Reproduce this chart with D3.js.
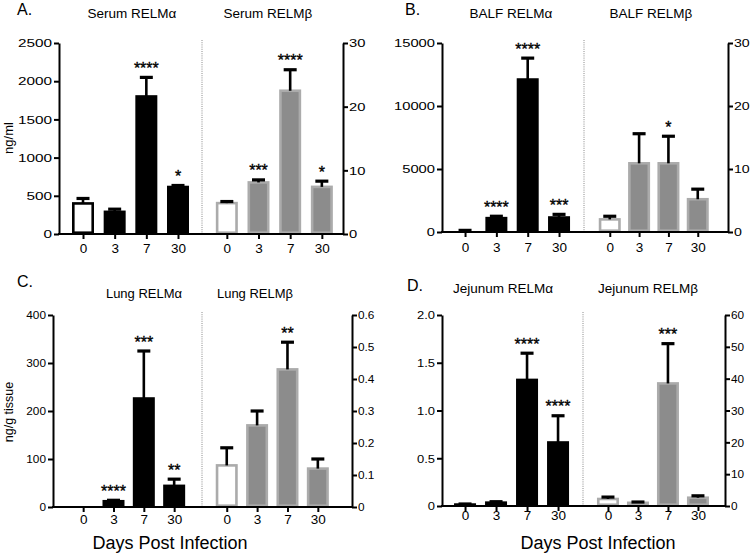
<!DOCTYPE html>
<html>
<head>
<meta charset="utf-8">
<script src="https://cdn.jsdelivr.net/npm/d3@7/dist/d3.min.js"></script>
<style>
  html, body { margin: 0; padding: 0; background: #fff; }
  svg { display: block; font-family: "Liberation Sans", Arial, Helvetica, sans-serif; }
</style>
</head>
<body>
<svg id="chart" width="750" height="554"></svg>
<script>
// ---------------- DATA ----------------
const days = ["0", "3", "7", "30"];

// Panel A – Serum
const serumAlpha    = [400, 290, 1800, 615];
const serumAlphaSem = [65, 35, 250, 20];
const serumAlphaSig = ["", "", "****", "*"];
const serumBeta     = [4.85, 8.1, 22.5, 7.4];
const serumBetaSem  = [0.25, 0.4, 3.3, 0.9];
const serumBetaSig  = ["", "***", "****", "*"];
const serumLeftTicks  = [0, 500, 1000, 1500, 2000, 2500];
const serumRightTicks = [0, 10, 20, 30];

// Panel B – BALF
const balfAlpha    = [80, 1100, 12100, 1150];
const balfAlphaSem = [50, 150, 1700, 250];
const balfAlphaSig = ["", "****", "****", "***"];
const balfBeta     = [2.0, 10.9, 10.9, 5.2];
const balfBetaSem  = [0.5, 4.7, 4.3, 1.6];
const balfBetaSig  = ["", "", "*", ""];
const balfLeftTicks  = [0, 5000, 10000, 15000];
const balfRightTicks = [0, 10, 20, 30];

// Panel C – Lung
const lungAlpha    = [0, 12, 226, 44];
const lungAlphaSem = [0, 2, 99, 14];
const lungAlphaSig = ["", "****", "***", "**"];
const lungBeta     = [0.13, 0.255, 0.43, 0.12];
const lungBetaSem  = [0.055, 0.045, 0.085, 0.03];
const lungBetaSig  = ["", "", "**", ""];
const lungLeftTicks  = [0, 100, 200, 300, 400];
const lungRightTicks = [0, 0.1, 0.2, 0.3, 0.4, 0.5, 0.6];
const lungRightLabels = ["0", "0.1", "0.2", "0.3", "0.4", "0.5", "0.6"];

// Panel D – Jejunum
const jejAlpha    = [0.015, 0.035, 1.32, 0.665];
const jejAlphaSem = [0.006, 0.01, 0.28, 0.28];
const jejAlphaSig = ["", "", "****", "****"];
const jejBeta     = [2.2, 1.0, 38.5, 2.6];
const jejBetaSem  = [0.6, 0.25, 12.5, 0.6];
const jejBetaSig  = ["", "", "***", ""];
const jejLeftTicks  = [0, 0.5, 1, 1.5, 2];
const jejLeftLabels = ["0", "0.5", "1.0", "1.5", "2.0"];
const jejRightTicks = [0, 10, 20, 30, 40, 50, 60];

// ---------------- PANELS (layout) ----------------
const panels = [
  { letter: "A.", lx: 17, ly: 15,
    titleA: "Serum RELMα", titleB: "Serum RELMβ", tAx: 132, tBx: 268, tY: 18, tSize: 13.5,
    x0: 59, xd: 202, x1: 343, y0: 234, yt: 43,
    pA: 0.758, aA: 0.5, pB: 0.726, aB: 0.54,
    alpha: serumAlpha, alphaSem: serumAlphaSem, alphaSig: serumAlphaSig,
    beta: serumBeta, betaSem: serumBetaSem, betaSig: serumBetaSig,
    leftMax: 2500, rightMax: 30, leftTicks: serumLeftTicks, rightTicks: serumRightTicks,
    leftLabels: null, rightLabels: null, stretchL: 1.3, stretchR: 1.25, xLabOff: 19,
    ylab: "ng/ml", ylabY: 138, ylabSize: 13, xTitle: null },
  { letter: "B.", lx: 405, ly: 15,
    titleA: "BALF RELMα", titleB: "BALF RELMβ", tAx: 511, tBx: 651, tY: 18, tSize: 13.5,
    x0: 442, xd: 584, x1: 728, y0: 232, yt: 43,
    pA: 0.766, aA: 0.48, pB: 0.955, aB: 0.46,
    alpha: balfAlpha, alphaSem: balfAlphaSem, alphaSig: balfAlphaSig,
    beta: balfBeta, betaSem: balfBetaSem, betaSig: balfBetaSig,
    leftMax: 15000, rightMax: 30, leftTicks: balfLeftTicks, rightTicks: balfRightTicks,
    leftLabels: null, rightLabels: null, stretchL: 1.25, stretchR: 1.2, xLabOff: 20,
    ylab: null, xTitle: null },
  { letter: "C.", lx: 17, ly: 287,
    titleA: "Lung RELMα", titleB: "Lung RELMβ", tAx: 144, tBx: 255, tY: 298, tSize: 13,
    x0: 53, xd: 202, x1: 352, y0: 507, yt: 315,
    pA: 0.956, aA: 0.52, pB: 0.97, aB: 0.42,
    alpha: lungAlpha, alphaSem: lungAlphaSem, alphaSig: lungAlphaSig,
    beta: lungBeta, betaSem: lungBetaSem, betaSig: lungBetaSig,
    leftMax: 400, rightMax: 0.6, leftTicks: lungLeftTicks, rightTicks: lungRightTicks,
    leftLabels: null, rightLabels: lungRightLabels, stretchL: 1.0, stretchR: 1.0, xLabOff: 17,
    ylab: "ng/g tissue", ylabY: 412, ylabSize: 12.5, xTitle: "Days Post Infection", xTx: 170 },
  { letter: "D.", lx: 407, ly: 291,
    titleA: "Jejunum RELMα", titleB: "Jejunum RELMβ", tAx: 503, tBx: 648, tY: 293, tSize: 13.5,
    x0: 442, xd: 583, x1: 725, y0: 506, yt: 315,
    pA: 0.774, aA: 0.48, pB: 0.867, aB: 0.48,
    alpha: jejAlpha, alphaSem: jejAlphaSem, alphaSig: jejAlphaSig,
    beta: jejBeta, betaSem: jejBetaSem, betaSig: jejBetaSig,
    leftMax: 2, rightMax: 60, leftTicks: jejLeftTicks, rightTicks: jejRightTicks,
    leftLabels: jejLeftLabels, rightLabels: null, stretchL: 1.1, stretchR: 1.0, xLabOff: 14,
    ylab: null, xTitle: "Days Post Infection", xTx: 598 }
];

const svg = d3.select("#chart");
const BAR_W = 22;
const GRAY_FILL = "#8c8c8c";
const GRAY_EDGE = "#ababab";

function stretchTicks(g, s) {
  g.selectAll(".tick text").each(function () {
    const t = d3.select(this);
    const x = +t.attr("x");
    t.attr("x", 0).attr("transform", `translate(${x},0) scale(${s},1)`);
  });
}

panels.forEach(p => {
  const g = svg.append("g");
  const yL = d3.scaleLinear().domain([0, p.leftMax]).range([p.y0, p.yt]);
  const yR = d3.scaleLinear().domain([0, p.rightMax]).range([p.y0, p.yt]);
  const xA = d3.scalePoint().domain(days).range([p.x0, p.xd]).padding(p.pA).align(p.aA);
  const xB = d3.scalePoint().domain(days).range([p.xd, p.x1]).padding(p.pB).align(p.aB);

  // divider
  g.append("line")
    .attr("x1", p.xd).attr("x2", p.xd)
    .attr("y1", p.yt - 3).attr("y2", p.y0)
    .attr("stroke", "#8a8a8a").attr("stroke-width", 1)
    .attr("stroke-dasharray", "1,1.2");

  // series drawing
  const drawSeries = (vals, sems, sigs, x, y, isAlpha) => {
    const data = days.map((d, i) => ({ d, v: vals[i], s: sems[i], sig: sigs[i], i }));
    const sw = 2.6;
    g.selectAll(null).data(data).enter().append("rect")
      .attr("x", d => x(d.d) - BAR_W / 2 + sw / 2)
      .attr("width", BAR_W - sw)
      .attr("y", d => y(d.v))
      .attr("height", d => Math.max(0, y(0) - y(d.v) - sw / 2))
      .attr("fill", d => d.i === 0 ? "#fff" : (isAlpha ? "#000" : GRAY_FILL))
      .attr("stroke", d => isAlpha ? "#000" : GRAY_EDGE)
      .attr("stroke-width", sw)
      .attr("display", d => d.v > 0 ? null : "none");

    const eb = data.filter(d => d.s > 0);
    g.selectAll(null).data(eb).enter().append("line")
      .attr("x1", d => x(d.d)).attr("x2", d => x(d.d))
      .attr("y1", d => y(d.v)).attr("y2", d => y(d.v + d.s))
      .attr("stroke", "#000").attr("stroke-width", 2.6);
    g.selectAll(null).data(eb).enter().append("line")
      .attr("x1", d => x(d.d) - 6.5).attr("x2", d => x(d.d) + 6.5)
      .attr("y1", d => y(d.v + d.s)).attr("y2", d => y(d.v + d.s))
      .attr("stroke", "#000").attr("stroke-width", 3.2);

    g.selectAll(null).data(data.filter(d => d.sig)).enter().append("text")
      .attr("x", d => x(d.d))
      .attr("y", d => y(d.v + d.s) - 3.5)
      .attr("text-anchor", "middle")
      .attr("font-size", 16)
      .attr("stroke", "#000").attr("stroke-width", 0.35)
      .text(d => d.sig);
  };
  drawSeries(p.alpha, p.alphaSem, p.alphaSig, xA, yL, true);
  drawSeries(p.beta, p.betaSem, p.betaSig, xB, yR, false);

  // left axis
  const la = d3.axisLeft(yL).tickValues(p.leftTicks).tickSize(5).tickPadding(2).tickSizeOuter(0);
  if (p.leftLabels) la.tickFormat((d, i) => p.leftLabels[i]); else la.tickFormat(d3.format("d"));
  const gl = g.append("g").attr("transform", `translate(${p.x0},0)`).call(la);
  // right axis
  const ra = d3.axisRight(yR).tickValues(p.rightTicks).tickSize(5).tickPadding(1).tickSizeOuter(0);
  if (p.rightLabels) ra.tickFormat((d, i) => p.rightLabels[i]); else ra.tickFormat(d3.format("d"));
  const gr = g.append("g").attr("transform", `translate(${p.x1},0)`).call(ra);

  [gl, gr].forEach(ax => {
    ax.select(".domain").attr("stroke", "#000").attr("stroke-width", 2);
    ax.selectAll(".tick line").attr("stroke", "#000").attr("stroke-width", 2);
    ax.selectAll(".tick text").attr("font-size", 11.8).attr("fill", "#000")
      .attr("font-family", "'Liberation Sans', Arial, sans-serif");
  });
  stretchTicks(gl, p.stretchL);
  stretchTicks(gr, p.stretchR);

  // x axis line
  g.append("line").attr("x1", p.x0 - 1).attr("x2", p.x1 + 1)
    .attr("y1", p.y0).attr("y2", p.y0)
    .attr("stroke", "#000").attr("stroke-width", 2);
  [xA, xB].forEach(x => {
    const xa = d3.axisBottom(x).tickSize(5).tickSizeOuter(0).tickPadding(p.xLabOff - 14.5);
    const gx = g.append("g").attr("transform", `translate(0,${p.y0})`).call(xa);
    gx.select(".domain").remove();
    gx.selectAll(".tick line").attr("stroke", "#000").attr("stroke-width", 2);
    gx.selectAll(".tick text").attr("font-size", 13.5).attr("fill", "#000")
      .attr("font-family", "'Liberation Sans', Arial, sans-serif");
  });

  // titles
  g.append("text").attr("x", p.lx).attr("y", p.ly).attr("font-size", 16).text(p.letter);
  g.append("text").attr("x", p.tAx).attr("y", p.tY).attr("text-anchor", "middle")
    .attr("font-size", p.tSize).text(p.titleA);
  g.append("text").attr("x", p.tBx).attr("y", p.tY).attr("text-anchor", "middle")
    .attr("font-size", p.tSize).text(p.titleB);

  if (p.ylab) {
    g.append("text")
      .attr("transform", `translate(13,${p.ylabY}) rotate(-90)`)
      .attr("text-anchor", "middle").attr("font-size", p.ylabSize).text(p.ylab);
  }
  if (p.xTitle) {
    g.append("text").attr("x", p.xTx).attr("y", 549).attr("text-anchor", "middle")
      .attr("font-size", 18).text(p.xTitle);
  }
});
</script>
</body>
</html>
